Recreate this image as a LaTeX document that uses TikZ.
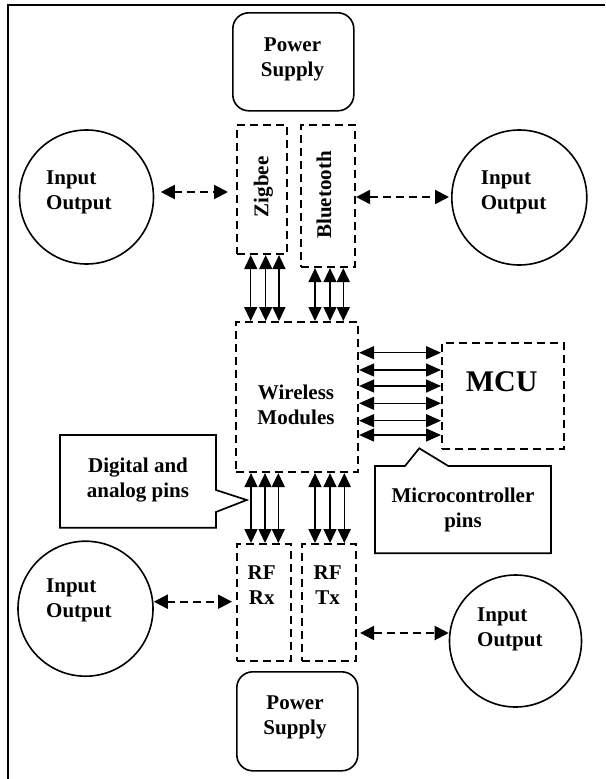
\documentclass[tikz,border=0pt]{standalone}
\usepackage{fontspec}
\setmainfont{Liberation Serif}
\usetikzlibrary{arrows.meta}
\begin{document}
\begin{tikzpicture}[x=1pt,y=-1pt,
  dbox/.style={draw, line width=2.1pt, dash pattern=on 8pt off 5pt, inner sep=0pt, anchor=north west},
  psu/.style={draw, line width=1.6pt, rounded corners=16pt, inner sep=0pt, anchor=north west, minimum width=121pt},
  io/.style={draw, circle, line width=1.6pt, inner sep=0pt},
  txt/.style={font=\bfseries\fontsize{21}{25}\selectfont, inner sep=0pt, align=center, anchor=north, execute at begin node=\strut},
  ltxt/.style={txt, align=left, anchor=north west},
  rtxt/.style={font=\bfseries\fontsize{21}{25}\selectfont, inner sep=0pt, rotate=90, anchor=base},
  callout/.style={draw, line width=1.7pt, line join=miter},
  pinv/.style={draw, line width=1.5pt, {Triangle[length=14pt,width=13pt]}-{Triangle[length=14pt,width=13pt]}},
  pinh/.style={draw, line width=1.5pt, {Triangle[length=15pt,width=13pt]}-{Triangle[length=15pt,width=13pt]}},
  iod/.style={draw, line width=2.1pt, dash pattern=on 8pt off 5pt, {Triangle[length=14pt,width=14pt]}-{Triangle[length=14pt,width=14pt]}}
]
\useasboundingbox (0,0) rectangle (605,779);
% frame
\draw[line width=2.2pt] (8,779) -- (8,5) -- (605,5);

% boxes
\node[psu, minimum height=98pt] (ps1) at (232,12) {};
\node[dbox, minimum width=50pt, minimum height=129pt] (zig) at (236,124) {};
\node[dbox, minimum width=54pt, minimum height=142pt] (bt) at (300,124) {};
\node[dbox, minimum width=122pt, minimum height=150pt] (wm) at (235,321) {};
\node[dbox, minimum width=122pt, minimum height=106pt] (mcu) at (441,342) {};
\node[dbox, minimum width=54pt, minimum height=117pt] (rx) at (236,543) {};
\node[dbox, minimum width=54pt, minimum height=117pt] (tx) at (301,543) {};
\node[psu, minimum height=99pt] (ps2) at (236,671) {};

% circles
\node[io, minimum size=134pt] (io1) at (86.5,197) {};
\node[io, minimum size=135pt] (io2) at (519.3,197.5) {};
\node[io, minimum size=135pt] (io3) at (85.5,608.7) {};
\node[io, minimum size=132pt] (io4) at (515.5,641) {};

% callouts
\draw[callout] (60,435) -- (216,435) -- (216,490) -- (246.7,500) -- (216,512) -- (216,527.7) -- (60,527.7) -- cycle;
\draw[callout] (375,466) -- (405,466) -- (419.3,448.3) -- (448.3,466) -- (551,466) -- (551,553.3) -- (375,553.3) -- cycle;

% texts
\node[txt] (ps1t) at (292.5,37.5) {Power\\Supply};
\node[txt] (ps2t) at (295,695.5) {Power\\Supply};
\node[ltxt] (io1t) at (46,170.5) {Input\\Output};
\node[ltxt] (io2t) at (480.7,170.5) {Input\\Output};
\node[ltxt] (io3t) at (46,578.5) {Input\\Output};
\node[ltxt] (io4t) at (477,607.5) {Input\\Output};
\node[rtxt] (zigt) at (268.3,187) {Zigbee};
\node[rtxt] (btt) at (331,195) {Bluetooth};
\node[txt] (wmt) at (296,385.2) {Wireless\\Modules};
\node[font=\bfseries\fontsize{30}{34}\selectfont, inner sep=0pt, anchor=base] (mcut) at (501.7,391.7) {MCU};
\node[txt] (rxt) at (261.7,565.5) {RF\\Rx};
\node[txt] (txt2) at (327.7,565.5) {RF\\Tx};
\node[txt] (digt) at (138,457.5) {Digital and\\analog pins};
\node[txt] (mict) at (463,487.5) {Microcontroller\\pins};

% pin arrows
\foreach \xx in {250.7,265.7,279} \draw[pinv] (zig.south -| \xx,0) -- (wm.north -| \xx,0);
\foreach \xx in {315,330,343.3} \draw[pinv] (bt.south -| \xx,0) -- (wm.north -| \xx,0);
\foreach \xx in {251,265,278.3} \draw[pinv] (wm.south -| \xx,0) -- (rx.north -| \xx,0);
\foreach \xx in {315,330,344.3} \draw[pinv] (wm.south -| \xx,0) -- (tx.north -| \xx,0);
\foreach \yy in {352.7,370,386,403.3,420.7,435} \draw[pinh] (wm.east |- 0,\yy) -- (mcu.west |- 0,\yy);

% dashed io arrows
\draw[iod, shorten <=6.5pt, shorten >=8pt] (io1.east |- 0,192) -- (zig.west |- 0,192);
\draw[iod, shorten >=2pt] (bt.east |- 0,197) -- (io2.west |- 0,197);
\draw[iod, shorten >=4pt] (io3.east |- 0,601.7) -- (rx.west |- 0,601.7);
\draw[iod, shorten <=3pt] (tx.east |- 0,633) -- (io4.west |- 0,633);
\end{tikzpicture}
\end{document}
